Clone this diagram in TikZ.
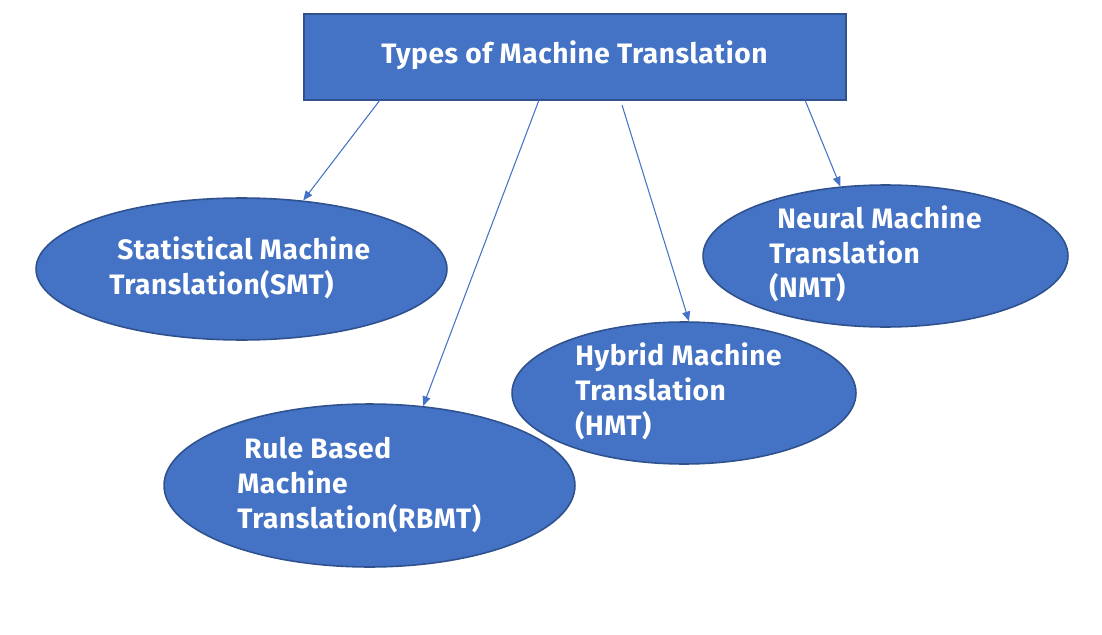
\documentclass[tikz,border=0pt]{standalone}
\usepackage{fontspec}
\setmainfont{Fira Sans}[LetterSpace=2.0]
\usetikzlibrary{shapes.geometric,arrows.meta}
\definecolor{mtfill}{HTML}{4472C4}
\definecolor{mtedge}{HTML}{2F528F}
\tikzset{
  typebox/.style={draw=mtedge,fill=mtfill,line width=1.1pt,minimum width=10.84cm,minimum height=1.72cm,inner sep=0pt},
  typeoval/.style={ellipse,draw=mtedge,fill=mtfill,line width=0.9pt,inner sep=0pt},
  typetext/.style={text=white,font=\fontsize{16}{19.8}\selectfont\bfseries,align=left,inner sep=0pt},
  typearrow/.style={draw=mtfill,line width=0.6pt,-{Triangle[length=5.5pt,width=4.5pt]}}
}
\begin{document}
\begin{tikzpicture}[x=0.02cm,y=-0.02cm]
  \useasboundingbox (0,0) rectangle (1102,635);
  % title box
  \node[typebox] (title) at (575,57) {};
  \node[typetext] (titletext) at (574.5,55) {Types of Machine Translation};
  % the four kinds
  \node[typeoval,minimum width=8.22cm,minimum height=2.84cm] (smt) at (241.5,269) {};
  \node[typeoval,minimum width=8.22cm,minimum height=3.26cm] (rbmt) at (369.5,485.5) {};
  \node[typeoval,minimum width=6.88cm,minimum height=2.84cm] (hmt) at (684,393) {};
  \node[typeoval,minimum width=7.30cm,minimum height=2.84cm] (nmt) at (885.5,256) {};
  \node[typetext,anchor=west] (smttext) at (109,268) {\hspace*{4.5pt}Statistical Machine\\Translation(SMT)};
  \node[typetext,anchor=west] (rbmttext) at (237,485) {\hspace*{4pt}Rule Based\\Machine\\Translation(RBMT)};
  \node[typetext,anchor=west] (hmttext) at (575,391.5) {Hybrid Machine\\Translation\\(HMT)};
  \node[typetext,anchor=west] (nmttext) at (769,254) {\hspace*{4.5pt}Neural Machine\\Translation\\(NMT)};
  % arrows
  \coordinate (s1) at (380,100);
  \coordinate (s2) at (539,100);
  \coordinate (s3) at (622,105);
  \coordinate (s4) at (805,100);
  \draw[typearrow] (s1) -- (smt.48);
  \draw[typearrow] (s2) -- (rbmt.56);
  \draw[typearrow] (s3) -- (hmt.86);
  \draw[typearrow] (s4) -- (nmt.123);
\end{tikzpicture}
\end{document}
